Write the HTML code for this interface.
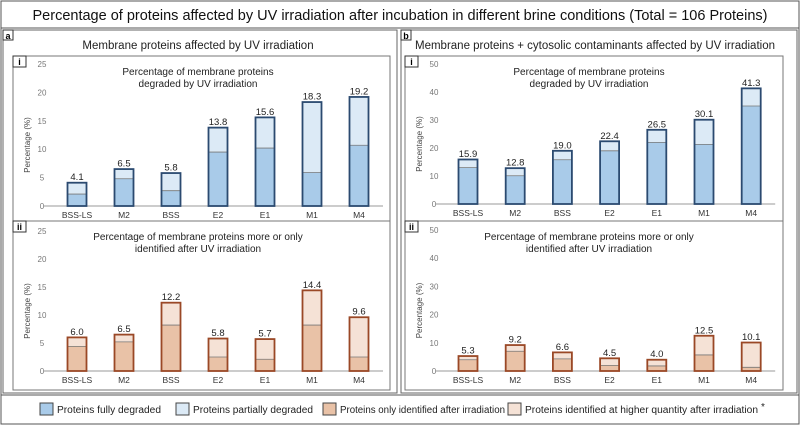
<!DOCTYPE html>
<html><head><meta charset="utf-8"><style>
body{margin:0;background:#fff;}
svg{display:block;font-family:"Liberation Sans",sans-serif;}
</style></head><body>
<svg id="fig" width="800" height="425" viewBox="0 0 800 425">
<rect x="1" y="1" width="798" height="423" fill="#fff" stroke="#555"/>
<line x1="1" y1="28" x2="799" y2="28" stroke="#555"/>
<text x="400" y="20" text-anchor="middle" font-size="14.5" fill="#111">Percentage of proteins affected by UV irradiation after incubation in different brine conditions (Total = 106 Proteins)</text>
<rect x="3" y="30" width="394" height="363" fill="none" stroke="#666"/>
<rect x="401" y="30" width="396" height="363" fill="none" stroke="#666"/>
<rect x="3" y="30" width="10" height="10" fill="#fff" stroke="#333"/><text x="8" y="39" text-anchor="middle" font-size="9" font-weight="bold">a</text>
<rect x="401" y="30" width="10" height="10" fill="#fff" stroke="#333"/><text x="406" y="39" text-anchor="middle" font-size="9" font-weight="bold">b</text>
<text x="198" y="49" text-anchor="middle" font-size="11.5" fill="#222">Membrane proteins affected by UV irradiation</text>
<text x="595" y="49" text-anchor="middle" font-size="11.5" fill="#222">Membrane proteins + cytosolic contaminants affected by UV irradiation</text>
<line x1="1" y1="395" x2="799" y2="395" stroke="#555"/>
<g id="legend"></g>
<g id="charts"></g>
</svg>
<script>
const categories=["BSS-LS","M2","BSS","E2","E1","M1","M4"];
const aiTotal=[4.1,6.5,5.8,13.8,15.6,18.3,19.2];
const aiFull=[2.1,4.8,2.7,9.5,10.2,5.9,10.7];
const aiiTotal=[6.0,6.5,12.2,5.8,5.7,14.4,9.6];
const aiiOnly=[4.4,5.2,8.2,2.5,2.1,8.2,2.5];
const biTotal=[15.9,12.8,19.0,22.4,26.5,30.1,41.3];
const biFull=[13.0,10.1,15.8,19.0,22.0,21.3,35.0];
const biiTotal=[5.3,9.2,6.6,4.5,4.0,12.5,10.1];
const biiOnly=[4.0,7.0,4.3,2.0,1.8,5.7,1.3];
const ticksA=[0,5,10,15,20,25];
const ticksB=[0,10,20,30,40,50];
const legendLabels=["Proteins fully degraded","Proteins partially degraded","Proteins only identified after irradiation","Proteins identified at higher quantity after irradiation"];

const NS="http://www.w3.org/2000/svg";
const root=document.getElementById('charts');
function mk(tag,attrs,parent,text){const e=document.createElementNS(NS,tag);for(const k in attrs)e.setAttribute(k,attrs[k]);if(text!==undefined)e.textContent=text;(parent||root).appendChild(e);return e;}
const BLUE={dark:"#a9cbe9",light:"#dceaf6",stroke:"#2b4a70"};
const BROWN={dark:"#e9c2a7",light:"#f5e2d6",stroke:"#9a4826"};

function chart(o){
  const g=mk('g',{});
  
  
  const bx=mk('rect',{x:o.bx,y:o.by,width:o.bw,height:o.bh,fill:'#fff',stroke:'#777'},g);
  
  
  mk('rect',{x:o.bx,y:o.by,width:13,height:11,fill:'#fff',stroke:'#333'},g);
  const lb=mk('text',{x:o.bx+6.5,y:o.by+9,'text-anchor':'middle','font-size':9,'font-weight':'bold'},g,o.label);
  
  
  const max=o.ticks[o.ticks.length-1];
  const y=v=>o.y0-(v/max)*(o.y0-o.yTop);
  const x=i=>o.x0+i*o.step;
  o.ticks.forEach(t=>{const tt=mk('text',{x:o.tickX,y:y(t)+3,'text-anchor':'middle','font-size':8,fill:'#777'},g,String(t));
    
    });
  const yt=mk('text',{transform:`translate(${o.tickX-12},${(o.y0+o.yTop)/2+10}) rotate(-90)`,'text-anchor':'middle','font-size':8,fill:'#444'},g,'Percentage (%)');
  
  
  o.title.forEach((t,i)=>{const te=mk('text',{x:o.titleX,y:o.by+19+i*12,'text-anchor':'middle','font-size':10,fill:'#222'},g,t);
    
    });
  const ax=mk('line',{x1:o.x0-33,x2:x(6)+24,y1:o.y0,y2:o.y0,stroke:'#999'},g);
  
  
  categories.forEach((c,i)=>{
    const cx=x(i),w=19;
    const r1=mk('rect',{x:cx-w/2,y:y(o.total[i]),width:w,height:o.y0-y(o.total[i]),fill:o.col.light},g);
    
    
    const r2=mk('rect',{x:cx-w/2,y:y(o.inner[i]),width:w,height:o.y0-y(o.inner[i]),fill:o.col.dark},g);
    
    
    mk('line',{x1:cx-w/2,x2:cx+w/2,y1:y(o.inner[i]),y2:y(o.inner[i]),stroke:'#777','stroke-width':0.8},g);
    const ol=mk('rect',{x:cx-w/2,y:y(o.total[i]),width:w,height:o.y0-y(o.total[i]),fill:'none',stroke:o.col.stroke,'stroke-width':1.8},g);
    
    
    const vl=mk('text',{x:cx,y:y(o.total[i])-2.5,'text-anchor':'middle','font-size':9.5,fill:'#222'},g,o.total[i].toFixed(1));
    
    
    const cl=mk('text',{x:cx,y:o.y0+12,'text-anchor':'middle','font-size':8.5,fill:'#333'},g,c);
    
    
  });
}
chart({name:'chart-a-i',label:'i',bx:13,by:56,bw:377,bh:165,y0:206,yTop:64,x0:77,step:47,tickX:42,ticks:ticksA,total:aiTotal,inner:aiFull,col:BLUE,titleX:198,title:['Percentage of membrane proteins','degraded by UV irradiation']});
chart({name:'chart-a-ii',label:'ii',bx:13,by:221,bw:377,bh:169,y0:371,yTop:231,x0:77,step:47,tickX:42,ticks:ticksA,total:aiiTotal,inner:aiiOnly,col:BROWN,titleX:198,title:['Percentage of membrane proteins more or only','identified after UV irradiation']});
chart({name:'chart-b-i',label:'i',bx:405,by:56,bw:378,bh:165,y0:204,yTop:64,x0:468,step:47.2,tickX:434,ticks:ticksB,total:biTotal,inner:biFull,col:BLUE,titleX:589,title:['Percentage of membrane proteins','degraded by UV irradiation']});
chart({name:'chart-b-ii',label:'ii',bx:405,by:221,bw:378,bh:169,y0:371,yTop:230,x0:468,step:47.2,tickX:434,ticks:ticksB,total:biiTotal,inner:biiOnly,col:BROWN,titleX:589,title:['Percentage of membrane proteins more or only','identified after UV irradiation']});

const lg=document.getElementById('legend');
const lx=[40,176,323,508];
const tl=[104,120,165,233];
const fills=[[BLUE.dark,BLUE.stroke],[BLUE.light,BLUE.stroke],[BROWN.dark,BROWN.stroke],[BROWN.light,BROWN.stroke]];
legendLabels.forEach((t,i)=>{
  const s=mk('rect',{x:lx[i],y:403,width:13,height:12,fill:fills[i][0],stroke:'#444'},lg);
  
  
  const tx=mk('text',{x:lx[i]+17,y:413,'font-size':10,fill:'#222',textLength:tl[i],lengthAdjust:'spacingAndGlyphs'},lg,t);
  
  
});
const st=mk('text',{x:lx[3]+17+tl[3]+3,y:410,'font-size':10,fill:'#222'},lg,'*');


</script>
</body></html>
